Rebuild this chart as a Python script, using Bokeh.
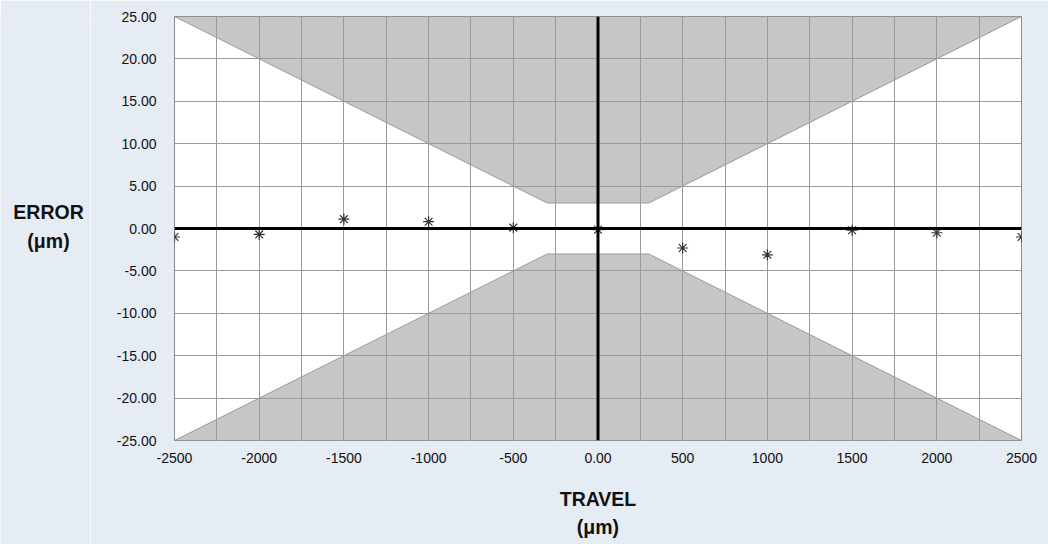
from bokeh.plotting import figure
from bokeh.layouts import row
from bokeh.models import FixedTicker, Span, Range1d
from bokeh.core.properties import value
from bokeh.embed import file_html
from bokeh.resources import INLINE

travel = [-2500, -2000, -1500, -1000, -500, 0, 500, 1000, 1500, 2000, 2500]
error = [-1.0, -0.7, 1.1, 0.8, 0.1, -0.15, -2.3, -3.1, -0.2, -0.5, -1.0]

# tolerance band vertices
tol_x = [-2500, -300, 300, 2500]
tol_y = [25, 3, 3, 25]

x_ticks = [-2500, -2000, -1500, -1000, -500, 0, 500, 1000, 1500, 2000, 2500]
x_labels = ["-2500", "-2000", "-1500", "-1000", "-500", "0.00", "500", "1000", "1500", "2000", "2500"]
x_minor = [-2250, -1750, -1250, -750, -250, 250, 750, 1250, 1750, 2250]
y_ticks = [-25, -20, -15, -10, -5, 0, 5, 10, 15, 20, 25]
y_labels = ["-25.00", "-20.00", "-15.00", "-10.00", "-5.00", "0.00", "5.00", "10.00", "15.00", "20.00", "25.00"]

y_title_lines = ["ERROR", "(μm)"]

BG = "#e5ecf4"
SHADE = "#c6c6c9"
GRID = "#9a9a9a"
FONT = "Liberation Sans"
TITLE_SIZE = "19.5px"

# ---- left strip holding the horizontal y-axis title
LW = 90
q = figure(width=LW, height=544, frame_width=LW, frame_height=544,
           x_range=Range1d(0, LW), y_range=Range1d(544, 0),
           output_backend="svg", toolbar_location=None,
           x_axis_location=None, y_axis_location=None,
           min_border_left=0, min_border_right=0, min_border_top=0, min_border_bottom=0)
q.grid.visible = False
q.outline_line_color = None
q.background_fill_color = BG
q.border_fill_color = BG
q.text(x=[48, 48], y=[195, 224], text=y_title_lines, text_align="center",
       text_baseline="alphabetic", text_font=value(FONT), text_font_style="bold",
       text_font_size=TITLE_SIZE, text_color="#111111")

# ---- main chart
p = figure(width=1048 - LW, height=544, frame_width=847, frame_height=424,
           x_range=Range1d(-2500, 2500), y_range=Range1d(-25, 25),
           output_backend="svg", toolbar_location=None,
           min_border_left=174 - LW, min_border_right=27, min_border_top=16, min_border_bottom=104)
p.background_fill_color = "white"
p.border_fill_color = BG
p.outline_line_color = "#888888"
p.outline_line_width = 1

up_xs = tol_x + [tol_x[-1], tol_x[0]]
up_ys = tol_y + [25, 25]
lo_xs = tol_x + [tol_x[-1], tol_x[0]]
lo_ys = [-v for v in tol_y] + [-25, -25]
pr = p.patches([up_xs, lo_xs], [up_ys, lo_ys], fill_color=SHADE, line_color="#8a8a8a", line_width=0.8)
pr.level = "image"

p.xaxis.ticker = FixedTicker(ticks=x_ticks, minor_ticks=x_minor)
p.yaxis.ticker = FixedTicker(ticks=y_ticks)
p.xaxis.major_label_overrides = dict(zip(x_ticks, x_labels))
p.yaxis.major_label_overrides = dict(zip(y_ticks, y_labels))

for ax in (p.xaxis, p.yaxis):
    ax.axis_line_color = None
    ax.major_tick_line_color = None
    ax.minor_tick_line_color = None
    ax.major_label_text_font = FONT
    ax.major_label_text_font_size = "14px"
    ax.major_label_text_color = "#111111"
    ax.axis_label_text_font = FONT
    ax.axis_label_text_font_style = "bold"
    ax.axis_label_text_font_size = TITLE_SIZE
    ax.axis_label_text_color = "#111111"
    ax.axis_label_text_line_height = 1.28
p.xaxis.major_label_standoff = 6
p.yaxis.major_label_standoff = 12

p.xaxis.axis_label = "TRAVEL\n(μm)"
p.xaxis.axis_label_standoff = 22

p.xgrid.grid_line_color = GRID
p.xgrid.minor_grid_line_color = GRID
p.ygrid.grid_line_color = GRID
p.xgrid.level = "underlay"
p.ygrid.level = "underlay"

p.add_layout(Span(location=0, dimension="width", line_color="black", line_width=3))
p.add_layout(Span(location=0, dimension="height", line_color="black", line_width=3))

p.scatter(travel, error, marker="asterisk", size=11, line_color="#333333", line_width=1.2)

open("out.html", "w").write(file_html(row(q, p, spacing=0), INLINE))
